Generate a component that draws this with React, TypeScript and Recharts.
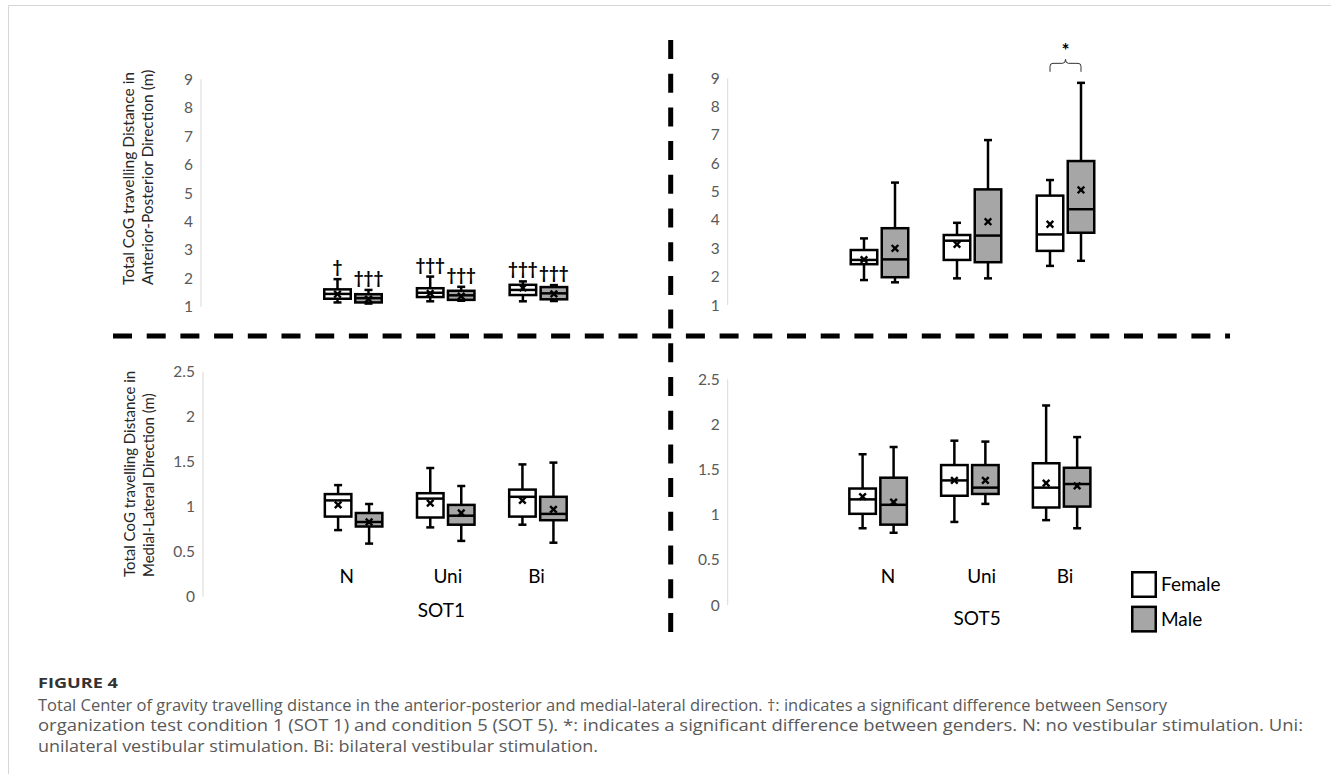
import React from 'react';
import { ComposedChart, Bar, XAxis, YAxis, Legend } from 'recharts';

const FONT = 'Lato, "Open Sans", sans-serif';
const CAPTION_FONT = '"Open Sans", "Noto Sans", sans-serif';

const conditions = ['N', 'Uni', 'Bi'];

// Box statistics per condition (N, Uni, Bi): [min, q1, median, q3, max, mean]
const apSot1Female = [
  [1.15, 1.28, 1.45, 1.61, 1.97, 1.44],
  [1.19, 1.34, 1.49, 1.65, 2.06, 1.47],
  [1.19, 1.41, 1.59, 1.77, 1.89, 1.66],
];
const apSot1Male = [
  [1.11, 1.15, 1.3, 1.44, 1.59, 1.27],
  [1.21, 1.24, 1.4, 1.56, 1.7, 1.37],
  [1.2, 1.26, 1.47, 1.69, 1.76, 1.45],
];
const apSot5Female = [
  [1.88, 2.44, 2.59, 2.94, 3.35, 2.6],
  [1.94, 2.59, 3.27, 3.47, 3.9, 3.14],
  [2.38, 2.91, 3.49, 4.86, 5.41, 3.85],
];
const apSot5Male = [
  [1.8, 1.98, 2.61, 3.71, 5.32, 3.0],
  [1.94, 2.51, 3.45, 5.08, 6.82, 3.94],
  [2.56, 3.55, 4.38, 6.08, 8.84, 5.06],
];
const mlSot1Female = [
  [0.74, 0.89, 1.07, 1.14, 1.24, 1.02],
  [0.77, 0.88, 1.09, 1.15, 1.43, 1.04],
  [0.8, 0.89, 1.11, 1.19, 1.47, 1.07],
];
const mlSot1Male = [
  [0.59, 0.78, 0.83, 0.93, 1.03, 0.83],
  [0.62, 0.8, 0.9, 1.02, 1.23, 0.93],
  [0.6, 0.85, 0.92, 1.11, 1.49, 0.97],
];
const mlSot5Female = [
  [0.85, 1.01, 1.17, 1.29, 1.67, 1.2],
  [0.92, 1.21, 1.38, 1.55, 1.82, 1.38],
  [0.94, 1.08, 1.3, 1.57, 2.21, 1.35],
];
const mlSot5Male = [
  [0.8, 0.89, 1.11, 1.41, 1.75, 1.14],
  [1.12, 1.23, 1.3, 1.55, 1.81, 1.38],
  [0.85, 1.09, 1.34, 1.52, 1.86, 1.32],
];

// Significance marks: † SOT1 vs SOT5, * between genders
const apSot1FemaleMarks = ['†', '†††', '†††'];
const apSot1MaleMarks = ['†††', '†††', '†††'];
const apSot5GenderSig = ['', '', '*'];

const apTicks = [1, 2, 3, 4, 5, 6, 7, 8, 9];
const mlTicks = [0, 0.5, 1, 1.5, 2, 2.5];

const BAR_SIZE = 29;
const BAR_GAP = 2;

type Stats = { min: number; q1: number; median: number; q3: number; max: number; mean: number; mark: string };

const toStats = (t: number[], mark?: string): Stats => ({
  min: t[0], q1: t[1], median: t[2], q3: t[3], max: t[4], mean: t[5], mark: mark || '',
});

const buildRows = (female: number[][], male: number[][], fMarks: string[] = [], mMarks: string[] = [], sig: string[] = []) =>
  conditions.map((cond, i) => ({
    cond,
    female: toStats(female[i], fMarks[i]),
    male: toStats(male[i], mMarks[i]),
    sig: sig[i] || '',
  }));

const apSot1Rows = buildRows(apSot1Female, apSot1Male, apSot1FemaleMarks, apSot1MaleMarks);
const apSot5Rows = buildRows(apSot5Female, apSot5Male, [], [], apSot5GenderSig);
const mlSot1Rows = buildRows(mlSot1Female, mlSot1Male);
const mlSot5Rows = buildRows(mlSot5Female, mlSot5Male);

const femaleRange = (r: any) => [r.female.q1, r.female.q3];
const maleRange = (r: any) => [r.male.q1, r.male.q3];

function BoxShape(props: any) {
  const { x, y, width, height, payload, fill, seriesKey } = props;
  const s: Stats | undefined = payload && payload[seriesKey];
  if (!s || !Number.isFinite(x) || !Number.isFinite(y)) return null;
  const top = Math.min(y, y + height);
  const bottom = Math.max(y, y + height);
  const k = (bottom - top) / (s.q3 - s.q1);
  const py = (v: number) => bottom - (v - s.q1) * k;
  const cx = x + width / 2;
  const sw = 2.5;
  const cap = 4;
  const yMax = py(s.max);
  const yMin = py(s.min);
  const yMed = py(s.median);
  const yMean = py(s.mean);
  const m = 3.3;

  let sigMark = null;
  if (seriesKey === 'male' && payload.sig) {
    const lx = x - BAR_GAP - width / 2;
    const rx = cx;
    const mid = (lx + rx) / 2;
    const b = yMax - 11;
    const t = yMax - 19.5;
    sigMark = (
      <g>
        <path
          d={`M${lx},${b} L${lx},${t + 3} Q${lx},${t} ${lx + 3},${t} L${mid - 3},${t} Q${mid},${t} ${mid},${t - 4} Q${mid},${t} ${mid + 3},${t} L${rx - 3},${t} Q${rx},${t} ${rx},${t + 3} L${rx},${b}`}
          fill="none"
          stroke="#333"
          strokeWidth={1}
        />
        <text x={mid} y={yMax - 26} textAnchor="middle" fontSize={19} fontWeight={700} fontFamily={FONT} fill="#000">
          {payload.sig}
        </text>
      </g>
    );
  }

  return (
    <g>
      <line x1={cx} y1={yMax} x2={cx} y2={top} stroke="#000" strokeWidth={sw} />
      <line x1={cx} y1={bottom} x2={cx} y2={yMin} stroke="#000" strokeWidth={sw} />
      <line x1={cx - cap} y1={yMax} x2={cx + cap} y2={yMax} stroke="#000" strokeWidth={sw} />
      <line x1={cx - cap} y1={yMin} x2={cx + cap} y2={yMin} stroke="#000" strokeWidth={sw} />
      <rect x={x + sw / 2} y={top} width={width - sw} height={bottom - top} fill={fill} stroke="#000" strokeWidth={sw} />
      <line x1={x + sw / 2} y1={yMed} x2={x + width - sw / 2} y2={yMed} stroke="#000" strokeWidth={sw} />
      <line x1={cx - m} y1={yMean - m} x2={cx + m} y2={yMean + m} stroke="#000" strokeWidth={2.4} />
      <line x1={cx - m} y1={yMean + m} x2={cx + m} y2={yMean - m} stroke="#000" strokeWidth={2.4} />
      {s.mark && (
        <text x={cx} y={yMax - 6} textAnchor="middle" fontSize={17} fontWeight={700} fontFamily={FONT} fill="#000">
          {s.mark}
        </text>
      )}
      {sigMark}
    </g>
  );
}

const femaleShape = (p: any) => <BoxShape {...p} seriesKey="female" />;
const maleShape = (p: any) => <BoxShape {...p} seriesKey="male" />;

function CategoryTick(props: any) {
  const { x, y, payload, index, lift, drop, group, shifts, groupShift } = props;
  return (
    <g>
      <text x={x + (shifts[index] || 0)} y={y - lift} textAnchor="middle" fontSize={19} fontFamily={FONT} fill="#000">
        {payload.value}
      </text>
      {index === 1 && (
        <text x={x + groupShift} y={y + drop} textAnchor="middle" fontSize={19} fontFamily={FONT} fill="#000">
          {group}
        </text>
      )}
    </g>
  );
}

function AxisTitle({ lines, xs, y, size }: { lines: string[]; xs: number[]; y: number; size: number }) {
  return (
    <g>
      {lines.map((t, i) => (
        <text
          key={t}
          x={xs[i]}
          y={y}
          transform={`rotate(-90 ${xs[i]} ${y})`}
          fontSize={size}
          fontFamily={FONT}
          fill="#262626"
          textAnchor="start"
        >
          {t}
        </text>
      ))}
    </g>
  );
}

function LegendContent(props: any) {
  const items = props.payload || [];
  return (
    <svg width={110} height={70} style={{ display: 'block' }}>
      {items.map((p: any, i: number) => (
        <g key={p.value}>
          <rect x={1.25} y={1.25 + i * 34.6} width={23.5} height={24.5} fill={p.color} stroke="#000" strokeWidth={2.5} />
          <text x={30} y={20 + i * 35.4} fontSize={19} fontFamily={FONT} fill="#000">
            {p.value}
          </text>
        </g>
      ))}
    </svg>
  );
}

type PanelProps = {
  rows: any[];
  left: number;
  top: number;
  width: number;
  height: number;
  margin: { top: number; right: number; bottom: number; left: number };
  padLeft: number;
  yDomain: [number, number];
  yTicks: number[];
  title?: { lines: string[]; xs: number[]; y: number; size: number };
  xLabels?: { lift: number; drop: number; group: string; shifts: number[]; groupShift: number };
  legend?: { left: number; top: number };
};

function Panel(p: PanelProps) {
  return (
    <div style={{ position: 'absolute', left: p.left, top: p.top }}>
      <ComposedChart width={p.width} height={p.height} data={p.rows} margin={p.margin} barSize={BAR_SIZE} barGap={BAR_GAP}>
        <XAxis
          dataKey="cond"
          hide={!p.xLabels}
          height={p.xLabels ? 20 : 0}
          axisLine={false}
          tickLine={false}
          tickSize={0}
          tickMargin={0}
          interval={0}
          padding={{ left: p.padLeft, right: 0 }}
          tick={p.xLabels ? (t: any) => <CategoryTick {...t} {...p.xLabels} /> : false}
        />
        <YAxis
          type="number"
          domain={p.yDomain}
          ticks={p.yTicks}
          interval={0}
          width={60}
          axisLine={{ stroke: '#d9d9d9', strokeWidth: 1 }}
          tickLine={false}
          tick={{ fill: '#595959', fontSize: 15.5, fontFamily: FONT }}
          label={p.title ? { content: () => <AxisTitle {...p.title!} /> } : undefined}
        />
        <Bar dataKey={femaleRange} name="Female" fill="#ffffff" isAnimationActive={false} shape={femaleShape} />
        <Bar dataKey={maleRange} name="Male" fill="#a6a6a6" isAnimationActive={false} shape={maleShape} />
        {p.legend && (
          <Legend
            layout="vertical"
            align="center"
            verticalAlign="middle"
            wrapperStyle={{ left: p.legend.left, top: p.legend.top, width: 110, height: 70 }}
            content={LegendContent}
          />
        )}
      </ComposedChart>
    </div>
  );
}

const captionLines = [
  'Total Center of gravity travelling distance in the anterior-posterior and medial-lateral direction. †: indicates a significant difference between Sensory',
  'organization test condition 1 (SOT 1) and condition 5 (SOT 5). *: indicates a significant difference between genders. N: no vestibular stimulation. Uni:',
  'unilateral vestibular stimulation. Bi: bilateral vestibular stimulation.',
];
const captionWidths = [1129, 1265, 560];

export default function App() {
  return (
    <div
      style={{
        position: 'absolute',
        left: 0,
        top: 0,
        width: 1331,
        height: 774,
        background: '#ffffff',
        overflow: 'hidden',
        fontFamily: FONT,
      }}
    >
      <Panel
        rows={apSot1Rows}
        left={0}
        top={0}
        width={600}
        height={330}
        margin={{ top: 79.3, right: 14.9, bottom: 23.3, left: 141 }}
        padLeft={106}
        yDomain={[1, 9]}
        yTicks={apTicks}
        title={{ lines: ['Total CoG travelling Distance in', 'Anterior-Posterior Direction (m)'], xs: [134, 153], y: 285, size: 15.5 }}
      />
      <Panel
        rows={apSot5Rows}
        left={660}
        top={0}
        width={480}
        height={330}
        margin={{ top: 78.3, right: 28.5, bottom: 25, left: 7.7 }}
        padLeft={104.8}
        yDomain={[1, 9]}
        yTicks={apTicks}
      />
      <Panel
        rows={mlSot1Rows}
        left={0}
        top={340}
        width={600}
        height={300}
        margin={{ top: 31.7, right: 15.9, bottom: 23.3, left: 143 }}
        padLeft={104.6}
        yDomain={[0, 2.5]}
        yTicks={mlTicks}
        title={{ lines: ['Total CoG travelling Distance in', 'Medial-Lateral Direction (m)'], xs: [135, 153.5], y: 237, size: 15 }}
        xLabels={{ lift: 13.7, drop: 20.3, group: 'SOT1', shifts: [-7, 2, -1.5], groupShift: -4.5 }}
      />
      <Panel
        rows={mlSot5Rows}
        left={660}
        top={340}
        width={480}
        height={300}
        margin={{ top: 39.3, right: 32.6, bottom: 15, left: 7.7 }}
        padLeft={104.4}
        yDomain={[0, 2.5]}
        yTicks={mlTicks}
        xLabels={{ lift: 22, drop: 19.6, group: 'SOT5', shifts: [10, 12, 3.5], groupShift: 7.4 }}
        legend={{ left: 471, top: 230.7 }}
      />
      <svg width={1331} height={774} style={{ position: 'absolute', left: 0, top: 0, pointerEvents: 'none' }}>
        <path d="M8.5,774 V5.5 H1331" fill="none" stroke="#d6d6d6" strokeWidth={1} />
        <line x1={113} y1={336} x2={1230} y2={336} stroke="#000" strokeWidth={5} strokeDasharray="19 14.7" />
        <line x1={670.7} y1={40} x2={670.7} y2={633} stroke="#000" strokeWidth={5} strokeDasharray="19 14.7" />
        <text x={38} y={688} fontSize={15} fontWeight={700} fontFamily={CAPTION_FONT} fill="#333" textLength={80} lengthAdjust="spacingAndGlyphs">
          FIGURE 4
        </text>
        {captionLines.map((t, i) => (
          <text
            key={i}
            x={38}
            y={711 + i * 20.3}
            fontSize={15.5}
            fontFamily={CAPTION_FONT}
            fill="#595959"
            textLength={captionWidths[i]}
            lengthAdjust="spacingAndGlyphs"
          >
            {t}
          </text>
        ))}
      </svg>
    </div>
  );
}
